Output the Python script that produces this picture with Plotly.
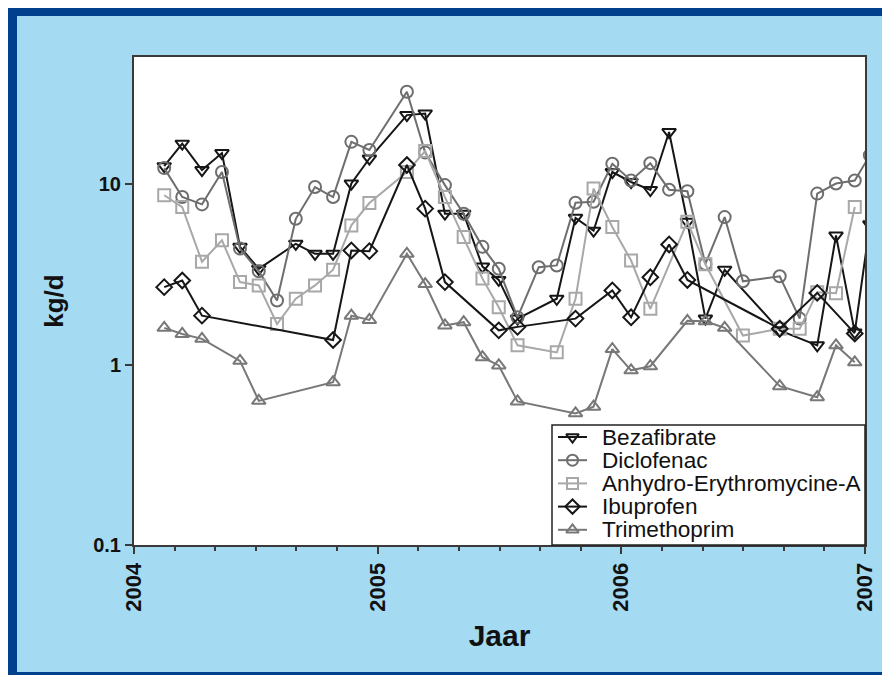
import plotly.graph_objects as go

# ---------------- data ----------------
year_ticks = [2004, 2005, 2006, 2007]
year_labels = ["2004", "2005", "2006", "2007"]
y_ticks = [0.1, 1, 10]
y_tick_labels = ["0.1", "1", "10"]

series_names = ["Bezafibrate", "Diclofenac", "Anhydro-Erythromycine-A", "Ibuprofen", "Trimethoprim"]

bez_x = [2004.124, 2004.198, 2004.279, 2004.361, 2004.435, 2004.512, 2004.664, 2004.743, 2004.817,
         2004.892, 2004.966, 2005.12, 2005.195, 2005.276, 2005.353, 2005.43, 2005.497, 2005.574,
         2005.735, 2005.812, 2005.886, 2005.963, 2006.04, 2006.119, 2006.196, 2006.271, 2006.345,
         2006.424, 2006.65, 2006.804, 2006.881, 2006.958, 2007.02]
bez_y = [12.6, 16.8, 12.0, 14.9, 4.5, 3.4, 4.68, 4.12, 4.12,
         10.1, 13.9, 24.2, 24.7, 6.87, 6.87, 3.5, 2.95, 1.8,
         2.32, 6.52, 5.53, 11.7, 10.3, 9.3, 19.5, 6.2, 1.8,
         3.36, 1.55, 1.28, 5.2, 1.51, 6.0]

dic_x = [2004.124, 2004.198, 2004.279, 2004.361, 2004.435, 2004.512, 2004.587, 2004.664, 2004.743,
         2004.817, 2004.892, 2004.966, 2005.12, 2005.195, 2005.276, 2005.353, 2005.43, 2005.497,
         2005.574, 2005.661, 2005.735, 2005.812, 2005.886, 2005.963, 2006.04, 2006.119, 2006.196,
         2006.271, 2006.345, 2006.424, 2006.499, 2006.65, 2006.732, 2006.804, 2006.881, 2006.958, 2007.02]
dic_y = [12.3, 8.5, 7.74, 11.7, 4.4, 3.3, 2.27, 6.44, 9.66,
         8.5, 17.2, 15.5, 32.6, 15.0, 9.9, 6.87, 4.5, 3.4,
         1.83, 3.47, 3.55, 7.9, 8.0, 13.0, 10.5, 13.1, 9.34,
         9.15, 3.62, 6.58, 2.9, 3.09, 1.8, 8.88, 10.1, 10.5, 14.5]

anh_x = [2004.124, 2004.198, 2004.279, 2004.361, 2004.435, 2004.512, 2004.587, 2004.664, 2004.743,
         2004.817, 2004.892, 2004.966, 2005.12, 2005.195, 2005.276, 2005.353, 2005.43, 2005.497,
         2005.574, 2005.735, 2005.812, 2005.886, 2005.963, 2006.04, 2006.119, 2006.271, 2006.345,
         2006.499, 2006.65, 2006.732, 2006.804, 2006.881, 2006.958]
anh_y = [8.7, 7.48, 3.72, 4.89, 2.87, 2.75, 1.68, 2.32, 2.75,
         3.36, 5.92, 7.87, 11.7, 15.3, 8.5, 5.1, 3.0, 2.08,
         1.28, 1.17, 2.32, 9.47, 5.8, 3.78, 2.04, 6.2, 3.6,
         1.45, 1.58, 1.58, 2.52, 2.49, 7.48]

ibu_x = [2004.124, 2004.198, 2004.279, 2004.817, 2004.892, 2004.966, 2005.12, 2005.195, 2005.276,
         2005.497, 2005.574, 2005.812, 2005.963, 2006.04, 2006.119, 2006.196, 2006.271, 2006.65,
         2006.804, 2006.958]
ibu_y = [2.69, 2.93, 1.87, 1.37, 4.3, 4.26, 12.8, 7.33, 2.87,
         1.55, 1.62, 1.8, 2.58, 1.83, 3.05, 4.64, 2.95, 1.58,
         2.5, 1.49]

tri_x = [2004.124, 2004.198, 2004.279, 2004.435, 2004.512, 2004.817, 2004.892, 2004.966, 2005.12,
         2005.195, 2005.276, 2005.353, 2005.43, 2005.497, 2005.574, 2005.812, 2005.886, 2005.963,
         2006.04, 2006.119, 2006.271, 2006.345, 2006.424, 2006.65, 2006.804, 2006.881, 2006.958]
tri_y = [1.6, 1.48, 1.39, 1.05, 0.63, 0.8, 1.87, 1.77, 4.12,
         2.8, 1.65, 1.72, 1.1, 0.99, 0.625, 0.537, 0.585, 1.22,
         0.93, 0.98, 1.75, 1.74, 1.6, 0.76, 0.66, 1.28, 1.03]

# ---------------- styling ----------------
symbols = ["triangle-down-open", "circle-open", "square-open", "diamond-open", "triangle-up-open"]
colors = ["#161616", "#6e6e6e", "#a8a8a8", "#161616", "#787878"]
xs_all = [bez_x, dic_x, anh_x, ibu_x, tri_x]
ys_all = [bez_y, dic_y, anh_y, ibu_y, tri_y]
MARKER_SIZE = 12

FONT = "Liberation Sans, Arial, sans-serif"
OFF = 8                      # page offset of the figure (default body margin)
PAGE_W, PAGE_H = 890, 675
W, H = PAGE_W - OFF, PAGE_H - OFF
# plot area in page pixels
P_LEFT, P_RIGHT, P_TOP, P_BOTTOM = 134, 865, 57, 545
L, R = P_LEFT - OFF, W - (P_RIGHT - OFF)
T, B = P_TOP - OFF, H - (P_BOTTOM - OFF)
PW, PH = W - L - R, H - T - B


def paper_x(page_px):
    return (page_px - OFF - L) / PW


def paper_y(page_py):
    return (H - B - (page_py - OFF)) / PH


fig = go.Figure()

for name, xs, ys, sym, col in zip(series_names, xs_all, ys_all, symbols, colors):
    fig.add_trace(go.Scatter(
        x=xs, y=ys, name=name, mode="lines+markers", showlegend=False,
        line=dict(color=col, width=2),
        marker=dict(symbol=sym, size=MARKER_SIZE, color=col, line=dict(width=2, color=col)),
    ))

# ---------------- legend (drawn in an overlay subplot, page-pixel units) ----------------
LG_X0, LG_X1, LG_Y0, LG_Y1 = 552, 865, 425, 545
fig.add_trace(go.Scatter(
    x=[LG_X0, LG_X1, LG_X1, LG_X0, LG_X0], y=[LG_Y1, LG_Y1, LG_Y0, LG_Y0, LG_Y1],
    xaxis="x2", yaxis="y2", mode="lines", fill="toself", fillcolor="white",
    line=dict(width=0, color="white"), hoverinfo="skip", showlegend=False,
))
row_h = 23.2
for i, (name, sym, col) in enumerate(zip(series_names, symbols, colors)):
    yc = LG_Y0 + 12 + i * row_h
    fig.add_trace(go.Scatter(
        x=[558, 587], y=[yc, yc], xaxis="x2", yaxis="y2", mode="lines",
        line=dict(color=col, width=2), hoverinfo="skip", showlegend=False,
    ))
    fig.add_trace(go.Scatter(
        x=[572.5], y=[yc], xaxis="x2", yaxis="y2", mode="markers",
        marker=dict(symbol=sym, size=MARKER_SIZE - 1, color=col, line=dict(width=2, color=col)),
        hoverinfo="skip", showlegend=False,
    ))
    fig.add_annotation(
        x=600, y=yc, xref="x2", yref="y2", text=name, showarrow=False,
        xanchor="left", yanchor="middle", font=dict(family=FONT, size=22.6, color="#111"),
    )

# ---------------- frame / background ----------------
DARK = "#00408C"
LIGHT = "#A4DAF2"
shapes = [
    dict(type="rect", xref="paper", yref="paper", x0=paper_x(OFF), x1=paper_x(PAGE_W + 2),
         y0=paper_y(16), y1=paper_y(OFF), fillcolor=DARK, line=dict(width=0), layer="below"),
    dict(type="rect", xref="paper", yref="paper", x0=paper_x(OFF), x1=paper_x(17),
         y0=paper_y(PAGE_H), y1=paper_y(OFF), fillcolor=DARK, line=dict(width=0), layer="below"),
    dict(type="rect", xref="paper", yref="paper", x0=paper_x(OFF), x1=paper_x(PAGE_W + 2),
         y0=paper_y(PAGE_H), y1=paper_y(672), fillcolor=DARK, line=dict(width=0), layer="below"),
    dict(type="rect", xref="paper", yref="paper", x0=paper_x(LG_X0), x1=paper_x(LG_X1),
         y0=paper_y(LG_Y1), y1=paper_y(LG_Y0), fillcolor="rgba(0,0,0,0)",
         line=dict(width=1.5, color="#222"), layer="above"),
]

axis_line = "#3a3a3a"
fig.update_layout(
    width=W, height=H,
    margin=dict(l=L, r=R, t=T, b=B, autoexpand=False),
    paper_bgcolor=LIGHT, plot_bgcolor="white",
    font=dict(family=FONT, color="#111"),
    shapes=shapes,
    showlegend=False,
    xaxis=dict(
        range=[2004, 2007], tickmode="array", tickvals=year_ticks, ticktext=year_labels,
        tickangle=-90, ticks="outside", ticklen=7, tickwidth=1.5, tickcolor=axis_line,
        tickfont=dict(size=22, family=FONT, weight="bold", color="#111"),
        minor=dict(dtick=1 / 6, tick0=2004, ticks="outside", ticklen=4, tickwidth=1.5,
                   tickcolor=axis_line, showgrid=False),
        showline=True, mirror=True, linecolor=axis_line, linewidth=2,
        showgrid=False, zeroline=False,
        title=dict(text="Jaar", font=dict(size=30, family=FONT, weight="bold", color="#111"),
                   standoff=14),
    ),
    yaxis=dict(
        type="log", range=[-1, 1.706], tickmode="array", tickvals=y_ticks, ticktext=y_tick_labels,
        ticks="outside", ticklen=7, tickwidth=1.5, tickcolor=axis_line,
        tickfont=dict(size=20, family=FONT, weight="bold", color="#111"),
        showline=True, mirror=True, linecolor=axis_line, linewidth=2,
        showgrid=False, zeroline=False,
        title=dict(text="kg/d", font=dict(size=26, family=FONT, weight="bold", color="#111"),
                   standoff=22),
    ),
    xaxis2=dict(domain=[paper_x(LG_X0), 1], range=[LG_X0, LG_X1], anchor="y2",
                visible=False, fixedrange=True),
    yaxis2=dict(domain=[0, paper_y(LG_Y0)], range=[LG_Y1, LG_Y0], anchor="x2",
                visible=False, fixedrange=True),
)

fig.write_html("out.html")
